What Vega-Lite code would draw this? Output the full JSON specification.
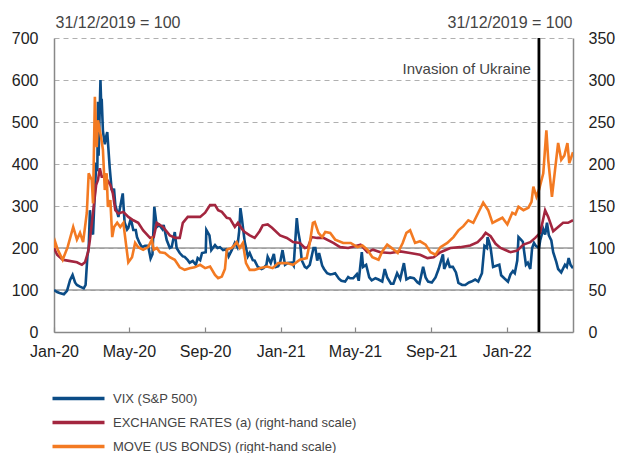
{
  "$schema": "https://vega.github.io/schema/vega-lite/v6.json",
  "width": 519,
  "height": 294,
  "autosize": {"type": "none"},
  "padding": {"left": 54, "top": 38, "right": 49, "bottom": 121},
  "config": {
    "view": {"stroke": null},
    "font": "Liberation Sans",
    "axis": {"titleFontWeight": "normal"}
  },
  "datasets": {
    "refs": [{"v": 100}, {"v": 200}],
    "events": [{"date": "2022-02-22", "label": "Invasion of Ukraine", "level": 307}],
    "vix": [
      {"date":"2020-01-01","v":100},{"date":"2020-01-06","v":95},{"date":"2020-01-10","v":93},{"date":"2020-01-17","v":90},{"date":"2020-01-22","v":98},{"date":"2020-01-27","v":124},{"date":"2020-01-31","v":136},{"date":"2020-02-04","v":118},{"date":"2020-02-07","v":112},{"date":"2020-02-12","v":108},{"date":"2020-02-18","v":104},{"date":"2020-02-21","v":112},{"date":"2020-02-24","v":182},{"date":"2020-02-26","v":200},{"date":"2020-02-28","v":290},{"date":"2020-03-02","v":240},{"date":"2020-03-04","v":232},{"date":"2020-03-06","v":304},{"date":"2020-03-09","v":395},{"date":"2020-03-11","v":390},{"date":"2020-03-12","v":548},{"date":"2020-03-13","v":420},{"date":"2020-03-16","v":600},{"date":"2020-03-17","v":552},{"date":"2020-03-18","v":555},{"date":"2020-03-20","v":478},{"date":"2020-03-23","v":447},{"date":"2020-03-25","v":464},{"date":"2020-03-27","v":476},{"date":"2020-03-31","v":390},{"date":"2020-04-03","v":340},{"date":"2020-04-07","v":339},{"date":"2020-04-09","v":302},{"date":"2020-04-14","v":274},{"date":"2020-04-16","v":291},{"date":"2020-04-21","v":330},{"date":"2020-04-24","v":261},{"date":"2020-04-28","v":244},{"date":"2020-04-30","v":248},{"date":"2020-05-04","v":270},{"date":"2020-05-08","v":243},{"date":"2020-05-12","v":243},{"date":"2020-05-14","v":226},{"date":"2020-05-18","v":212},{"date":"2020-05-22","v":202},{"date":"2020-05-27","v":205},{"date":"2020-06-01","v":205},{"date":"2020-06-05","v":175},{"date":"2020-06-08","v":185},{"date":"2020-06-11","v":298},{"date":"2020-06-15","v":250},{"date":"2020-06-19","v":255},{"date":"2020-06-24","v":245},{"date":"2020-06-26","v":255},{"date":"2020-07-01","v":219},{"date":"2020-07-06","v":200},{"date":"2020-07-09","v":202},{"date":"2020-07-14","v":238},{"date":"2020-07-17","v":200},{"date":"2020-07-22","v":188},{"date":"2020-07-27","v":180},{"date":"2020-07-30","v":179},{"date":"2020-08-04","v":171},{"date":"2020-08-07","v":165},{"date":"2020-08-12","v":169},{"date":"2020-08-17","v":160},{"date":"2020-08-20","v":176},{"date":"2020-08-24","v":171},{"date":"2020-08-27","v":188},{"date":"2020-09-02","v":190},{"date":"2020-09-03","v":243},{"date":"2020-09-08","v":230},{"date":"2020-09-11","v":195},{"date":"2020-09-17","v":207},{"date":"2020-09-21","v":200},{"date":"2020-09-25","v":202},{"date":"2020-09-30","v":195},{"date":"2020-10-05","v":197},{"date":"2020-10-09","v":180},{"date":"2020-10-14","v":195},{"date":"2020-10-19","v":212},{"date":"2020-10-23","v":202},{"date":"2020-10-26","v":240},{"date":"2020-10-28","v":295},{"date":"2020-10-30","v":274},{"date":"2020-11-04","v":214},{"date":"2020-11-09","v":180},{"date":"2020-11-12","v":188},{"date":"2020-11-17","v":171},{"date":"2020-11-20","v":170},{"date":"2020-11-25","v":155},{"date":"2020-12-01","v":150},{"date":"2020-12-04","v":152},{"date":"2020-12-09","v":160},{"date":"2020-12-11","v":179},{"date":"2020-12-16","v":164},{"date":"2020-12-21","v":186},{"date":"2020-12-24","v":155},{"date":"2020-12-28","v":157},{"date":"2020-12-31","v":165},{"date":"2021-01-04","v":195},{"date":"2021-01-08","v":160},{"date":"2021-01-12","v":164},{"date":"2021-01-19","v":165},{"date":"2021-01-22","v":158},{"date":"2021-01-27","v":271},{"date":"2021-01-29","v":242},{"date":"2021-02-01","v":217},{"date":"2021-02-04","v":171},{"date":"2021-02-09","v":155},{"date":"2021-02-12","v":152},{"date":"2021-02-17","v":160},{"date":"2021-02-23","v":200},{"date":"2021-02-26","v":200},{"date":"2021-03-01","v":170},{"date":"2021-03-04","v":188},{"date":"2021-03-09","v":158},{"date":"2021-03-12","v":150},{"date":"2021-03-17","v":140},{"date":"2021-03-22","v":137},{"date":"2021-03-26","v":138},{"date":"2021-03-30","v":140},{"date":"2021-04-05","v":127},{"date":"2021-04-09","v":122},{"date":"2021-04-15","v":120},{"date":"2021-04-20","v":131},{"date":"2021-04-23","v":128},{"date":"2021-04-28","v":128},{"date":"2021-05-04","v":138},{"date":"2021-05-07","v":122},{"date":"2021-05-12","v":190},{"date":"2021-05-14","v":155},{"date":"2021-05-19","v":160},{"date":"2021-05-24","v":130},{"date":"2021-05-28","v":123},{"date":"2021-06-03","v":128},{"date":"2021-06-08","v":125},{"date":"2021-06-14","v":120},{"date":"2021-06-18","v":150},{"date":"2021-06-22","v":130},{"date":"2021-06-28","v":115},{"date":"2021-07-02","v":115},{"date":"2021-07-08","v":140},{"date":"2021-07-13","v":126},{"date":"2021-07-19","v":164},{"date":"2021-07-23","v":125},{"date":"2021-07-29","v":130},{"date":"2021-08-04","v":128},{"date":"2021-08-10","v":118},{"date":"2021-08-13","v":115},{"date":"2021-08-19","v":155},{"date":"2021-08-23","v":130},{"date":"2021-08-27","v":120},{"date":"2021-09-02","v":118},{"date":"2021-09-08","v":130},{"date":"2021-09-13","v":150},{"date":"2021-09-20","v":185},{"date":"2021-09-22","v":150},{"date":"2021-09-28","v":170},{"date":"2021-10-01","v":155},{"date":"2021-10-06","v":155},{"date":"2021-10-11","v":142},{"date":"2021-10-15","v":117},{"date":"2021-10-21","v":112},{"date":"2021-10-26","v":112},{"date":"2021-11-01","v":118},{"date":"2021-11-05","v":120},{"date":"2021-11-11","v":125},{"date":"2021-11-16","v":120},{"date":"2021-11-22","v":140},{"date":"2021-11-26","v":205},{"date":"2021-11-30","v":200},{"date":"2021-12-01","v":226},{"date":"2021-12-03","v":217},{"date":"2021-12-06","v":200},{"date":"2021-12-10","v":155},{"date":"2021-12-14","v":157},{"date":"2021-12-20","v":160},{"date":"2021-12-23","v":135},{"date":"2021-12-28","v":128},{"date":"2022-01-03","v":120},{"date":"2022-01-07","v":137},{"date":"2022-01-11","v":145},{"date":"2022-01-14","v":140},{"date":"2022-01-18","v":170},{"date":"2022-01-20","v":226},{"date":"2022-01-24","v":220},{"date":"2022-01-27","v":215},{"date":"2022-02-01","v":160},{"date":"2022-02-04","v":165},{"date":"2022-02-08","v":150},{"date":"2022-02-11","v":200},{"date":"2022-02-14","v":212},{"date":"2022-02-17","v":205},{"date":"2022-02-22","v":200},{"date":"2022-02-24","v":218},{"date":"2022-03-01","v":245},{"date":"2022-03-04","v":232},{"date":"2022-03-07","v":260},{"date":"2022-03-10","v":230},{"date":"2022-03-14","v":218},{"date":"2022-03-17","v":190},{"date":"2022-03-22","v":167},{"date":"2022-03-25","v":150},{"date":"2022-03-30","v":142},{"date":"2022-04-05","v":160},{"date":"2022-04-08","v":155},{"date":"2022-04-11","v":176},{"date":"2022-04-14","v":160},{"date":"2022-04-18","v":152}
    ],
    "er": [
      {"date":"2020-01-01","v":100},{"date":"2020-01-06","v":92},{"date":"2020-01-15","v":86},{"date":"2020-01-23","v":85},{"date":"2020-02-07","v":83},{"date":"2020-02-15","v":80},{"date":"2020-02-20","v":83},{"date":"2020-02-25","v":95},{"date":"2020-02-28","v":110},{"date":"2020-03-04","v":142},{"date":"2020-03-09","v":175},{"date":"2020-03-12","v":181},{"date":"2020-03-15","v":195},{"date":"2020-03-18","v":185},{"date":"2020-03-23","v":185},{"date":"2020-03-27","v":181},{"date":"2020-04-01","v":175},{"date":"2020-04-05","v":165},{"date":"2020-04-09","v":145},{"date":"2020-04-14","v":141},{"date":"2020-04-22","v":143},{"date":"2020-04-30","v":137},{"date":"2020-05-08","v":133},{"date":"2020-05-16","v":130},{"date":"2020-05-24","v":121},{"date":"2020-06-04","v":112},{"date":"2020-06-10","v":113},{"date":"2020-06-15","v":130},{"date":"2020-06-25","v":125},{"date":"2020-07-06","v":115},{"date":"2020-07-15","v":112},{"date":"2020-07-22","v":112},{"date":"2020-07-27","v":130},{"date":"2020-08-04","v":137},{"date":"2020-08-14","v":137},{"date":"2020-08-24","v":137},{"date":"2020-09-01","v":142},{"date":"2020-09-09","v":151},{"date":"2020-09-17","v":151},{"date":"2020-09-22","v":145},{"date":"2020-09-28","v":143},{"date":"2020-10-06","v":136},{"date":"2020-10-11","v":135},{"date":"2020-10-19","v":125},{"date":"2020-10-24","v":130},{"date":"2020-10-31","v":122},{"date":"2020-11-04","v":119},{"date":"2020-11-12","v":115},{"date":"2020-11-20","v":112},{"date":"2020-11-28","v":120},{"date":"2020-12-03","v":127},{"date":"2020-12-11","v":128},{"date":"2020-12-18","v":124},{"date":"2020-12-31","v":115},{"date":"2021-01-11","v":112},{"date":"2021-01-21","v":107},{"date":"2021-02-01","v":106},{"date":"2021-02-09","v":100},{"date":"2021-02-14","v":101},{"date":"2021-02-20","v":113},{"date":"2021-03-01","v":112},{"date":"2021-03-11","v":112},{"date":"2021-03-27","v":106},{"date":"2021-04-07","v":101},{"date":"2021-04-20","v":100},{"date":"2021-05-10","v":104},{"date":"2021-05-21","v":95},{"date":"2021-05-30","v":98},{"date":"2021-06-11","v":95},{"date":"2021-06-27","v":94},{"date":"2021-07-13","v":96},{"date":"2021-07-29","v":94},{"date":"2021-08-14","v":92},{"date":"2021-08-26","v":88},{"date":"2021-09-05","v":89},{"date":"2021-09-16","v":95},{"date":"2021-10-02","v":100},{"date":"2021-10-18","v":101},{"date":"2021-11-03","v":103},{"date":"2021-11-15","v":107},{"date":"2021-11-23","v":113},{"date":"2021-11-28","v":118},{"date":"2021-12-06","v":114},{"date":"2021-12-14","v":105},{"date":"2021-12-22","v":100},{"date":"2022-01-07","v":95},{"date":"2022-01-18","v":97},{"date":"2022-01-28","v":104},{"date":"2022-02-08","v":107},{"date":"2022-02-16","v":112},{"date":"2022-02-24","v":118},{"date":"2022-03-04","v":145},{"date":"2022-03-09","v":137},{"date":"2022-03-17","v":120},{"date":"2022-03-25","v":125},{"date":"2022-04-02","v":130},{"date":"2022-04-10","v":130},{"date":"2022-04-18","v":133}
    ],
    "move": [
      {"date":"2020-01-01","v":100},{"date":"2020-01-03","v":107},{"date":"2020-01-07","v":98},{"date":"2020-01-15","v":86},{"date":"2020-01-23","v":101},{"date":"2020-02-01","v":125},{"date":"2020-02-07","v":110},{"date":"2020-02-12","v":118},{"date":"2020-02-17","v":107},{"date":"2020-02-23","v":142},{"date":"2020-02-26","v":189},{"date":"2020-03-02","v":181},{"date":"2020-03-04","v":153},{"date":"2020-03-07","v":280},{"date":"2020-03-10","v":220},{"date":"2020-03-12","v":252},{"date":"2020-03-17","v":232},{"date":"2020-03-20","v":217},{"date":"2020-03-23","v":169},{"date":"2020-03-26","v":189},{"date":"2020-03-28","v":149},{"date":"2020-04-01","v":157},{"date":"2020-04-04","v":113},{"date":"2020-04-07","v":125},{"date":"2020-04-12","v":130},{"date":"2020-04-17","v":125},{"date":"2020-04-22","v":130},{"date":"2020-04-26","v":106},{"date":"2020-04-30","v":83},{"date":"2020-05-06","v":89},{"date":"2020-05-11","v":106},{"date":"2020-05-16","v":101},{"date":"2020-05-24","v":98},{"date":"2020-06-01","v":101},{"date":"2020-06-07","v":110},{"date":"2020-06-10","v":98},{"date":"2020-06-15","v":100},{"date":"2020-06-20","v":95},{"date":"2020-06-28","v":94},{"date":"2020-07-06","v":89},{"date":"2020-07-14","v":86},{"date":"2020-07-22","v":77},{"date":"2020-07-30","v":74},{"date":"2020-08-07","v":76},{"date":"2020-08-15","v":77},{"date":"2020-08-24","v":80},{"date":"2020-09-01","v":76},{"date":"2020-09-09","v":78},{"date":"2020-09-17","v":68},{"date":"2020-09-22","v":64},{"date":"2020-09-28","v":66},{"date":"2020-10-03","v":75},{"date":"2020-10-06","v":98},{"date":"2020-10-14","v":100},{"date":"2020-10-19","v":104},{"date":"2020-10-22","v":107},{"date":"2020-10-27","v":100},{"date":"2020-11-01","v":106},{"date":"2020-11-06","v":82},{"date":"2020-11-12","v":74},{"date":"2020-11-20","v":74},{"date":"2020-11-28","v":76},{"date":"2020-12-10","v":78},{"date":"2020-12-19","v":76},{"date":"2020-12-28","v":82},{"date":"2021-01-11","v":82},{"date":"2021-01-21","v":80},{"date":"2021-02-01","v":86},{"date":"2021-02-12","v":88},{"date":"2021-02-17","v":106},{"date":"2021-02-22","v":130},{"date":"2021-02-25","v":131},{"date":"2021-03-03","v":118},{"date":"2021-03-09","v":113},{"date":"2021-03-14","v":119},{"date":"2021-03-22","v":118},{"date":"2021-03-30","v":110},{"date":"2021-04-12","v":106},{"date":"2021-04-24","v":106},{"date":"2021-05-05","v":101},{"date":"2021-05-13","v":103},{"date":"2021-05-21","v":98},{"date":"2021-05-29","v":89},{"date":"2021-06-08","v":86},{"date":"2021-06-14","v":96},{"date":"2021-06-22","v":104},{"date":"2021-07-01","v":99},{"date":"2021-07-09","v":94},{"date":"2021-07-17","v":106},{"date":"2021-07-23","v":118},{"date":"2021-07-29","v":121},{"date":"2021-08-06","v":106},{"date":"2021-08-14","v":108},{"date":"2021-08-23","v":104},{"date":"2021-08-31","v":95},{"date":"2021-09-08","v":92},{"date":"2021-09-16","v":101},{"date":"2021-09-27","v":106},{"date":"2021-10-07","v":113},{"date":"2021-10-15","v":121},{"date":"2021-10-23","v":126},{"date":"2021-10-31","v":133},{"date":"2021-11-08","v":130},{"date":"2021-11-16","v":142},{"date":"2021-11-24","v":154},{"date":"2021-12-02","v":145},{"date":"2021-12-09","v":130},{"date":"2021-12-17","v":133},{"date":"2021-12-25","v":136},{"date":"2022-01-02","v":128},{"date":"2022-01-10","v":142},{"date":"2022-01-15","v":140},{"date":"2022-01-20","v":149},{"date":"2022-01-28","v":145},{"date":"2022-02-05","v":148},{"date":"2022-02-10","v":155},{"date":"2022-02-13","v":173},{"date":"2022-02-18","v":161},{"date":"2022-02-22","v":169},{"date":"2022-03-01","v":189},{"date":"2022-03-06","v":240},{"date":"2022-03-09","v":205},{"date":"2022-03-15","v":161},{"date":"2022-03-20","v":193},{"date":"2022-03-25","v":225},{"date":"2022-03-30","v":205},{"date":"2022-04-04","v":210},{"date":"2022-04-09","v":225},{"date":"2022-04-12","v":201},{"date":"2022-04-18","v":214}
    ]
  },
  "resolve": {"scale": {"y": "independent"}},
  "layer": [
    {
      "layer": [
        {
          "data": {"name": "refs"},
          "mark": {"type": "rule", "color": "#9a9a9a", "strokeWidth": 1.3},
          "encoding": {
            "y": {"field": "v", "type": "quantitative", "scale": {"domain": [0, 700], "nice": false}}
          }
        },
        {
          "data": {"name": "vix"},
          "mark": {"type": "line", "strokeWidth": 2.6, "clip": true},
          "encoding": {
            "x": {
              "field": "date", "type": "temporal",
              "scale": {"domain": ["2020-01-01", "2022-04-18"]},
              "axis": {
                "title": null, "format": "%b-%y",
                "tickCount": {"interval": "month", "step": 4},
                "grid": false, "tickSize": -5, "tickColor": "#888", "tickWidth": 1.2,
                "domainColor": "#888", "domainWidth": 1.5,
                "labelFontSize": 16, "labelColor": "#222", "labelPadding": 16,
                "labelFlush": false, "labelOverlap": false
              }
            },
            "y": {
              "field": "v", "type": "quantitative",
              "scale": {"domain": [0, 700], "nice": false},
              "axis": {
                "orient": "left", "values": [0, 100, 200, 300, 400, 500, 600, 700],
                "grid": true, "gridDash": [5, 4], "gridColor": "#b0b0b0", "gridWidth": 1,
                "ticks": false, "domainColor": "#888", "domainWidth": 1.5,
                "labelFontSize": 16, "labelColor": "#222", "labelPadding": 16,
                "title": "31/12/2019 = 100", "titleAngle": 0, "titleAlign": "left",
                "titleBaseline": "alphabetic", "titleX": 1, "titleY": -11,
                "titleFontSize": 16, "titleColor": "#444", "titleFontWeight": "normal"
              }
            },
            "color": {
              "datum": "VIX (S&P 500)",
              "scale": {
                "domain": ["VIX (S&P 500)", "EXCHANGE RATES (a) (right-hand scale)", "MOVE (US BONDS) (right-hand scale)"],
                "range": ["#0b4c86", "#a3263f", "#f37a22"]
              },
              "legend": {
                "title": null, "orient": "none", "legendX": 18, "legendY": 354,
                "direction": "vertical", "symbolType": "M-6.5,0H6.5", "symbolSize": 64,
                "symbolStrokeWidth": 3.5, "labelFont": "Liberation Sans",
                "labelFontSize": 13, "labelColor": "#444", "labelOffset": 28,
                "labelLimit": 0, "rowPadding": 9, "padding": 0
              }
            }
          }
        }
      ]
    },
    {
      "layer": [
        {
          "data": {"name": "er"},
          "mark": {"type": "line", "strokeWidth": 2.6, "clip": true},
          "encoding": {
            "x": {"field": "date", "type": "temporal"},
            "y": {
              "field": "v", "type": "quantitative",
              "scale": {"domain": [0, 350], "nice": false},
              "axis": {
                "orient": "right", "values": [0, 50, 100, 150, 200, 250, 300, 350],
                "grid": false, "ticks": false, "domainColor": "#888", "domainWidth": 1.5,
                "labelFontSize": 16, "labelColor": "#222", "labelPadding": 15,
                "title": "31/12/2019 = 100", "titleAngle": 0, "titleAlign": "right",
                "titleBaseline": "alphabetic", "titleX": -1, "titleY": -11,
                "titleFontSize": 16, "titleColor": "#444", "titleFontWeight": "normal"
              }
            },
            "color": {"datum": "EXCHANGE RATES (a) (right-hand scale)"}
          }
        },
        {
          "data": {"name": "move"},
          "mark": {"type": "line", "strokeWidth": 2.6, "clip": true},
          "encoding": {
            "x": {"field": "date", "type": "temporal"},
            "y": {"field": "v", "type": "quantitative", "scale": {"domain": [0, 350], "nice": false}},
            "color": {"datum": "MOVE (US BONDS) (right-hand scale)"}
          }
        },
        {
          "data": {"name": "events"},
          "mark": {"type": "rule", "color": "#000", "strokeWidth": 2.8},
          "encoding": {
            "x": {"field": "date", "type": "temporal"}
          }
        },
        {
          "data": {"name": "events"},
          "mark": {"type": "text", "align": "right", "baseline": "alphabetic", "dx": -8, "fontSize": 15, "color": "#444"},
          "encoding": {
            "x": {"field": "date", "type": "temporal"},
            "y": {"field": "level", "type": "quantitative", "scale": {"domain": [0, 350], "nice": false}},
            "text": {"field": "label"}
          }
        }
      ]
    }
  ]
}
